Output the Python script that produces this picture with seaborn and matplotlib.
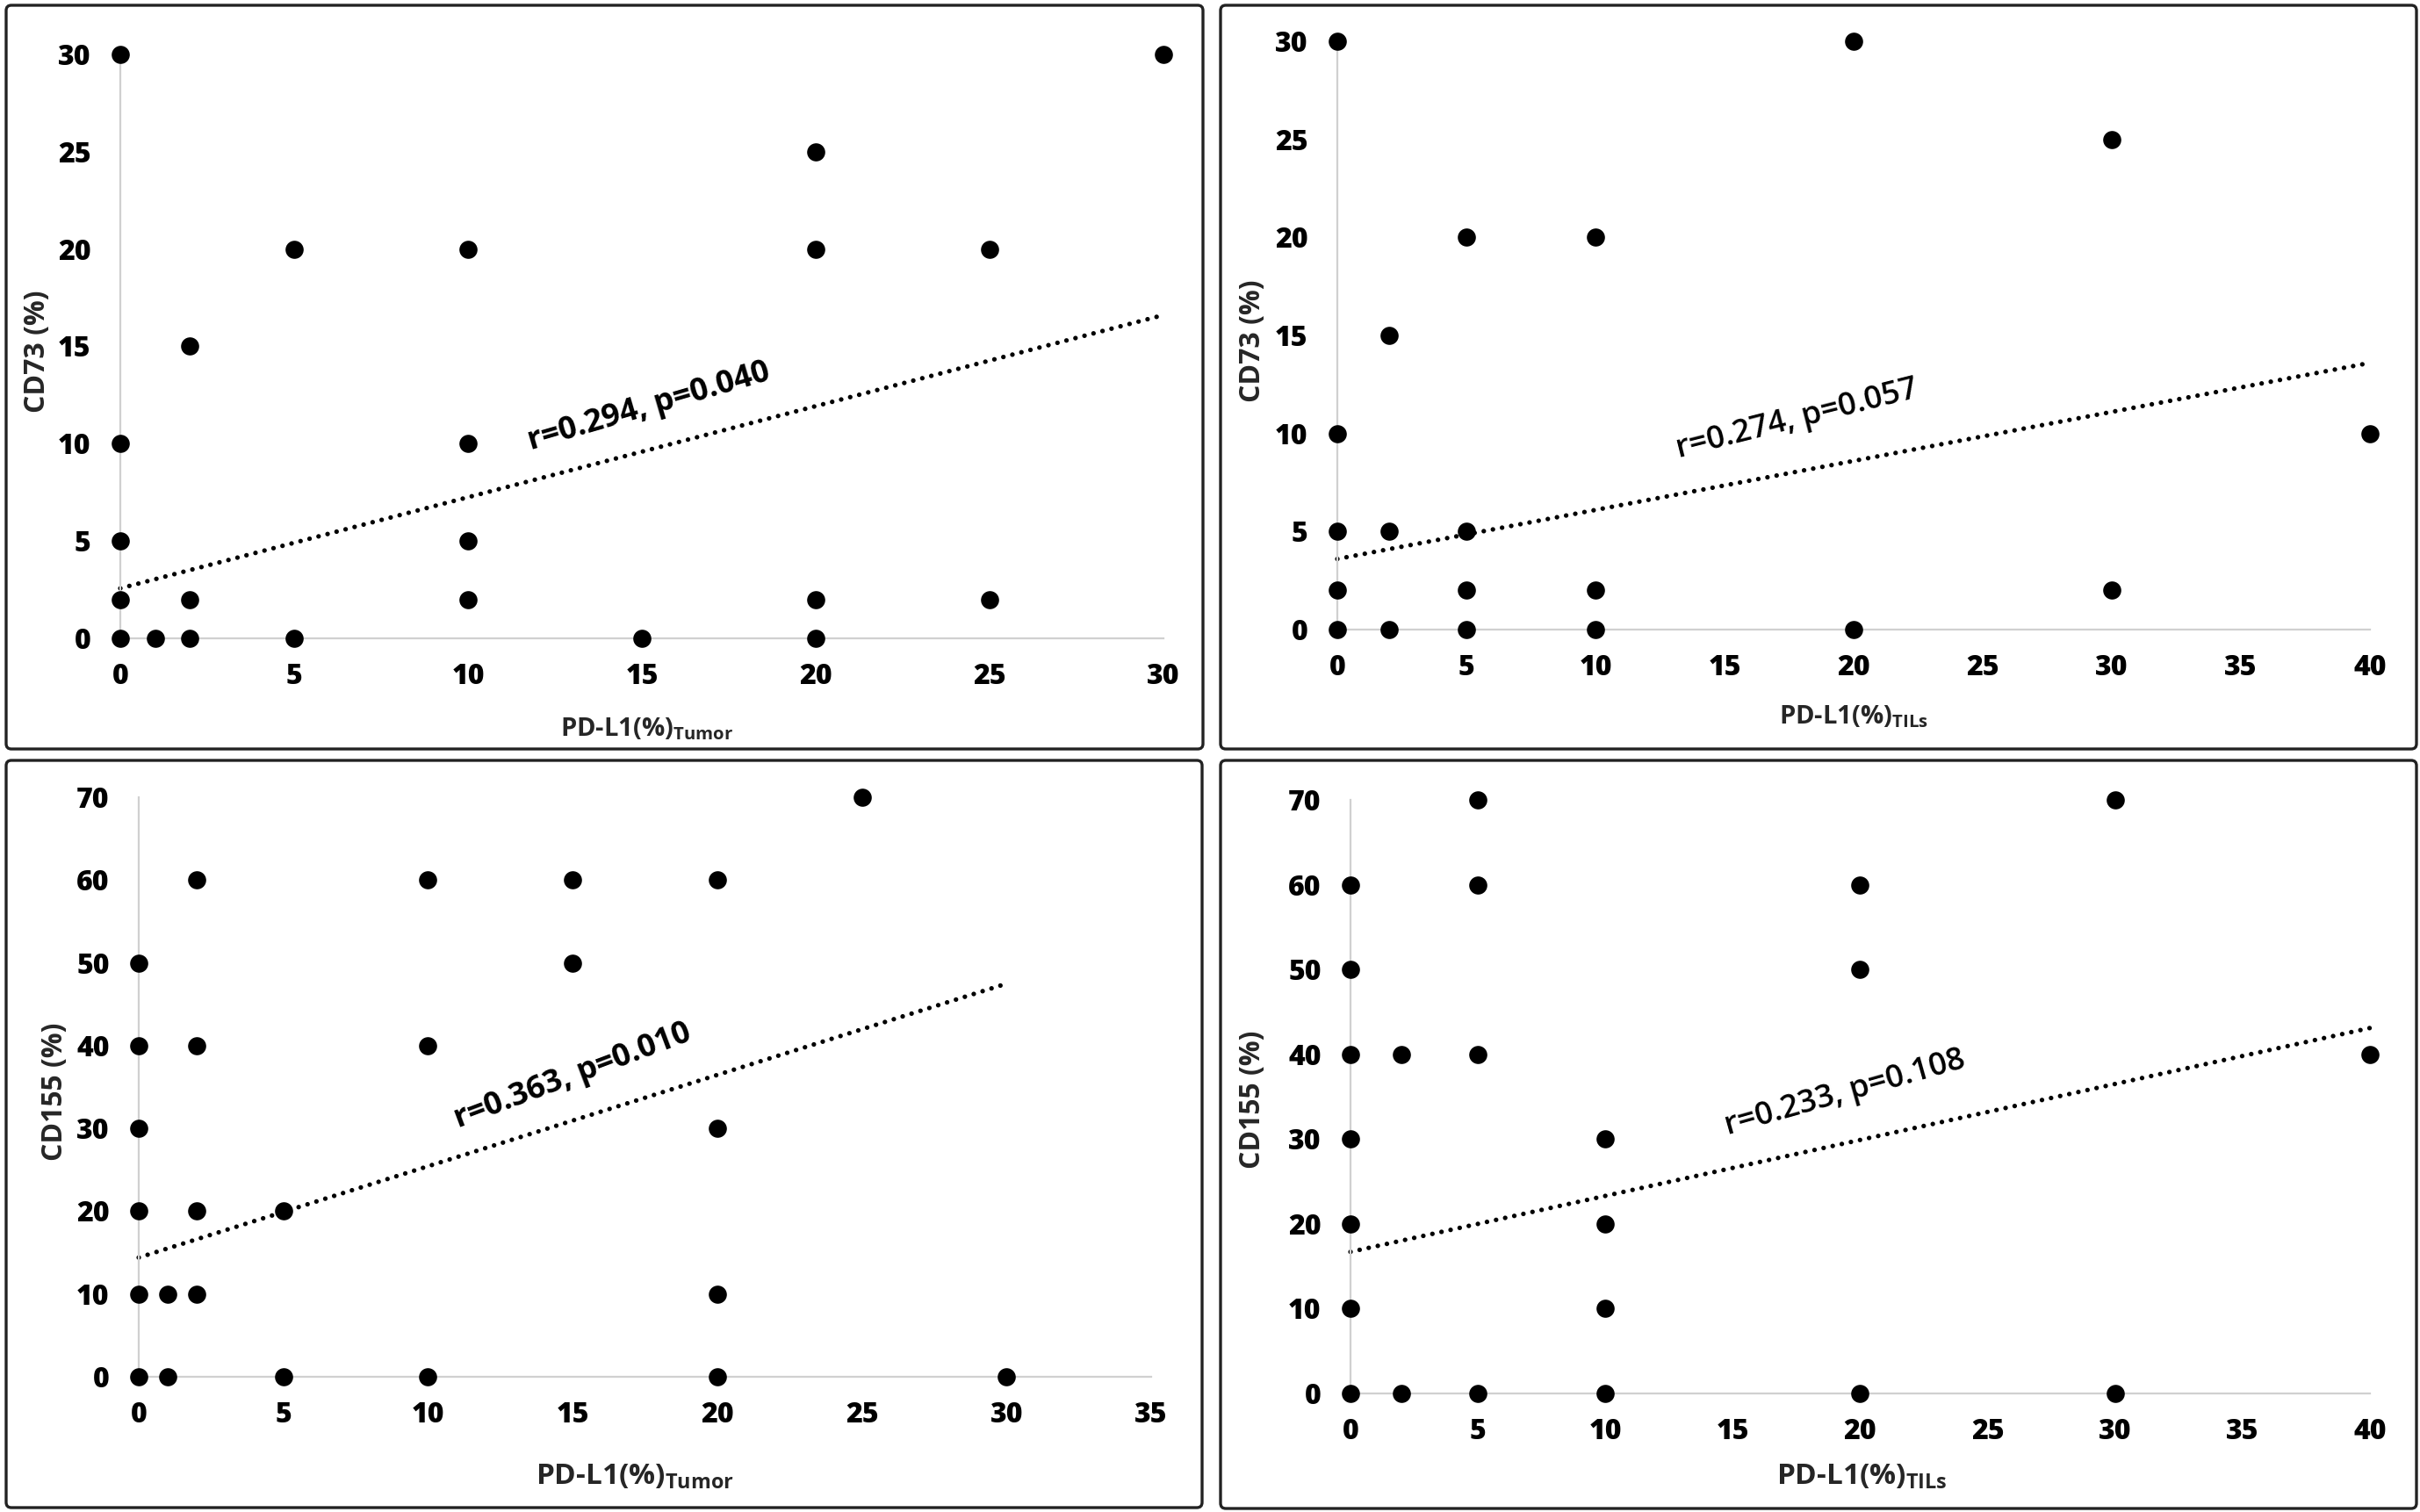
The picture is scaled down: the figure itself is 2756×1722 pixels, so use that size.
import matplotlib
matplotlib.use("Agg")
import matplotlib.pyplot as plt
from matplotlib.patches import FancyBboxPatch
from matplotlib.transforms import IdentityTransform
import seaborn as sns
import pandas as pd
import numpy as np

# CD73 vs PD-L1 (tumor)
cd73_tumor_x = [0, 30, 20, 5, 10, 20, 25, 2, 0, 10, 0, 10, 0, 2, 10, 20, 25, 0, 1, 2, 5, 15, 20]
cd73_tumor_y = [30, 30, 25, 20, 20, 20, 20, 15, 10, 10, 5, 5, 2, 2, 2, 2, 2, 0, 0, 0, 0, 0, 0]

# CD73 vs PD-L1 (TILs)
cd73_tils_x = [0, 20, 30, 5, 10, 2, 0, 40, 0, 2, 5, 0, 5, 10, 30, 0, 2, 5, 10, 20]
cd73_tils_y = [30, 30, 25, 20, 20, 15, 10, 10, 5, 5, 5, 2, 2, 2, 2, 0, 0, 0, 0, 0]

# CD155 vs PD-L1 (tumor)
cd155_tumor_x = [25, 2, 10, 15, 20, 0, 15, 0, 2, 10, 0, 20, 0, 2, 5, 0, 1, 2, 20, 0, 1, 5, 10, 20, 30]
cd155_tumor_y = [70, 60, 60, 60, 60, 50, 50, 40, 40, 40, 30, 30, 20, 20, 20, 10, 10, 10, 10, 0, 0, 0, 0, 0, 0]

# CD155 vs PD-L1 (TILs)
cd155_tils_x = [5, 30, 0, 5, 20, 0, 20, 0, 2, 5, 40, 0, 10, 0, 10, 0, 10, 0, 2, 5, 10, 20, 30]
cd155_tils_y = [70, 70, 60, 60, 60, 50, 50, 40, 40, 40, 40, 30, 30, 20, 20, 10, 10, 0, 0, 0, 0, 0, 0]

# linear trend lines (intercept, slope) and stats labels
trend_intercept = [2.57, 3.6, 14.4, 16.7]
trend_slope = [0.468, 0.250, 1.103, 0.660]
stat_labels = ["r=0.294, p=0.040", "r=0.274, p=0.057", "r=0.363, p=0.010", "r=0.233, p=0.108"]
y_labels = ["CD73 (%)", "CD73 (%)", "CD155 (%)", "CD155 (%)"]
x_labels = [r"PD-L1(%)$_{\mathbf{Tumor}}$", r"PD-L1(%)$_{\mathbf{TILs}}$",
            r"PD-L1(%)$_{\mathbf{Tumor}}$", r"PD-L1(%)$_{\mathbf{TILs}}$"]

sns.set_style("white")
plt.rcParams["font.family"] = ["Open Sans", "DejaVu Sans"]
plt.rcParams["font.weight"] = "heavy"
plt.rcParams["mathtext.fontset"] = "custom"
plt.rcParams["mathtext.rm"] = "Open Sans"
plt.rcParams["mathtext.bf"] = "Open Sans:bold"

W, H = 2756, 1722
fig = plt.figure(figsize=(W / 100, H / 100), dpi=100)

# layout in pixels: axes box, frame box, axis ranges, label and text placement
panels = [
    dict(x=cd73_tumor_x, y=cd73_tumor_y, ax=(137, 1325, 62, 727), frame=(7, 1370, 6, 853),
         xmax=30, ymax=30, ystep=5, ylab=(43, 400), xlab=(737, 830), xsize=21,
         txt=(15.2, 11.9), rot=16.3, bold=True),
    dict(x=cd73_tils_x, y=cd73_tils_y, ax=(1523, 2699, 47, 717), frame=(1390, 2752, 6, 853),
         xmax=40, ymax=30, ystep=5, ylab=(1426, 388), xlab=(2111, 816), xsize=21,
         txt=(17.8, 10.7), rot=14.2, bold=False),
    dict(x=cd155_tumor_x, y=cd155_tumor_y, ax=(158, 1311, 908, 1568), frame=(7, 1369, 866, 1717),
         xmax=35, ymax=70, ystep=10, ylab=(62, 1243), xlab=(723, 1682), xsize=24,
         txt=(15.0, 36.3), rot=20.6, bold=True),
    dict(x=cd155_tils_x, y=cd155_tils_y, ax=(1538, 2699, 911, 1587), frame=(1390, 2752, 866, 1718),
         xmax=40, ymax=70, ystep=10, ylab=(1426, 1252), xlab=(2120, 1682), xsize=24,
         txt=(19.4, 35.4), rot=15.8, bold=False),
]

axis_gray = "#d0d0d0"

for i, p in enumerate(panels):
    l, r, t, b = p["ax"]
    ax = fig.add_axes([l / W, 1 - b / H, (r - l) / W, (b - t) / H])

    df = pd.DataFrame({"x": p["x"], "y": p["y"]})
    sns.scatterplot(data=df, x="x", y="y", ax=ax, s=220, color="black",
                    edgecolor="black", linewidth=0, clip_on=False, zorder=3)

    line_x = np.array([0, df["x"].max()])
    ax.plot(line_x, trend_intercept[i] + trend_slope[i] * line_x, color="black",
            lw=3.8, linestyle=(0, (0.01, 2.0)), dash_capstyle="round", zorder=2, clip_on=False)

    ax.set_xlim(0, p["xmax"])
    ax.set_ylim(0, p["ymax"])
    ax.set_xticks(np.arange(0, p["xmax"] + 1, 5))
    ax.set_yticks(np.arange(0, p["ymax"] + 1, p["ystep"]))
    for side in ["top", "right"]:
        ax.spines[side].set_visible(False)
    for side in ["left", "bottom"]:
        ax.spines[side].set_color(axis_gray)
        ax.spines[side].set_linewidth(1.6)
    ax.tick_params(axis="both", direction="out", length=5, width=1.5,
                   color=axis_gray, labelsize=23, labelcolor="black")
    ax.tick_params(axis="x", pad=15)
    ax.tick_params(axis="y", pad=19)
    ax.set_xlabel("")
    ax.set_ylabel("")
    ax.patch.set_alpha(0)

    # axis titles
    fig.text(p["ylab"][0] / W, 1 - p["ylab"][1] / H, y_labels[i], rotation=90,
             ha="center", va="center", fontsize=23, fontweight="bold")
    fig.text(p["xlab"][0] / W, 1 - p["xlab"][1] / H, x_labels[i],
             ha="center", va="center", fontsize=p["xsize"], fontweight="bold")

    # correlation text
    ax.text(p["txt"][0], p["txt"][1], stat_labels[i], rotation=p["rot"],
            rotation_mode="anchor", ha="center", va="center", fontsize=26,
            color="black", fontweight="bold" if p["bold"] else "semibold")

    # rounded black frame around each panel
    fl, fr, ft, fb = p["frame"]
    frame = FancyBboxPatch((fl, H - fb), fr - fl, fb - ft,
                           boxstyle="round,pad=0,rounding_size=6",
                           transform=IdentityTransform(), fill=False,
                           edgecolor="#222222", linewidth=2.4)
    fig.add_artist(frame)

fig.savefig("out.png", dpi=100, facecolor="white")
plt.close(fig)
